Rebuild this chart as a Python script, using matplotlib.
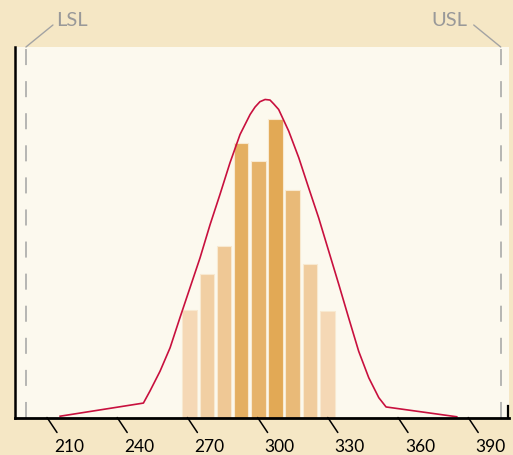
import matplotlib
matplotlib.use("Agg")
import matplotlib.pyplot as plt
from matplotlib.colors import LinearSegmentedColormap, Normalize

# histogram bins (centres) and heights
bin_centers = [271.0, 278.4, 285.6, 293.0, 300.4, 307.7, 315.0, 322.3, 329.8]
bin_heights = [5.80, 7.73, 9.26, 14.85, 13.89, 16.16, 12.32, 8.32, 5.75]

# fitted curve, sampled points
curve_x = [215.6, 251.2, 254.0, 258.3, 262.6, 266.8, 271.1, 275.4, 279.7, 283.9,
           288.2, 292.5, 296.8, 298.9, 301.0, 303.2, 305.3, 306.9, 309.0, 313.3,
           317.6, 321.8, 326.1, 330.4, 334.7, 338.9, 343.2, 347.5, 351.8, 354.9,
           385.1]
curve_y = [0.07, 0.78, 1.43, 2.50, 3.77, 5.39, 7.01, 8.63, 10.43, 12.05,
           13.77, 15.30, 16.38, 16.78, 17.07, 17.19, 17.16, 16.95, 16.65, 15.48,
           14.04, 12.42, 10.79, 8.99, 7.19, 5.39, 3.58, 2.15, 1.07, 0.57,
           0.04]

tick_values = [210, 240, 270, 300, 330, 360, 390]
tick_labels = ["210", "240", "270", "300", "330", "360", "390"]

lsl = 201.0
usl = 403.9

plt.rcParams["font.family"] = ["Lato", "DejaVu Sans"]

W, H = 513, 456
fig = plt.figure(figsize=(W / 100, H / 100), dpi=100, facecolor="#F5E7C5")
left_px, right_px, bottom_px, top_px = 14.5, 509, 418.5, 48
ax = fig.add_axes([left_px / W, (H - bottom_px) / H,
                   (right_px - left_px) / W, (bottom_px - top_px) / H])
ax.set_facecolor("#FCF9EE")

# bars coloured by height
cmap = LinearSegmentedColormap.from_list("bars", ["#F5D8B5", "#E2A955"])
norm = Normalize(min(bin_heights), max(bin_heights))
ax.bar(bin_centers, bin_heights, width=6.2,
       color=[cmap(norm(h)) for h in bin_heights],
       edgecolor="#F8E9D0", linewidth=0.8, zorder=2)

ax.plot(curve_x, curve_y, color="#C8103E", lw=1.2, zorder=3,
        solid_joinstyle="round")

# spec limits
for v in (lsl, usl):
    ax.axvline(v, color="#A3A3A3", lw=1.1, ls=(0, (10.5, 10.5)), zorder=1)
ax.annotate("", xy=(lsl, 1), xycoords=("data", "axes fraction"),
            xytext=(27, 22), textcoords="offset pixels",
            arrowprops=dict(arrowstyle="-", color="#A3A3A3", lw=1,
                            shrinkA=0, shrinkB=0))
ax.annotate("LSL", xy=(lsl, 1), xycoords=("data", "axes fraction"),
            xytext=(46, 28), textcoords="offset pixels",
            ha="center", va="center", fontsize=14.5, color="#999999")
ax.annotate("", xy=(usl, 1), xycoords=("data", "axes fraction"),
            xytext=(-27, 22), textcoords="offset pixels",
            arrowprops=dict(arrowstyle="-", color="#A3A3A3", lw=1,
                            shrinkA=0, shrinkB=0))
ax.annotate("USL", xy=(usl, 1), xycoords=("data", "axes fraction"),
            xytext=(-51, 28), textcoords="offset pixels",
            ha="center", va="center", fontsize=14.5, color="#999999")

# slanted ticks
for v, lab in zip(tick_values, tick_labels):
    ax.annotate("", xy=(v, 0), xycoords=("data", "axes fraction"),
                xytext=(10, -15), textcoords="offset pixels",
                arrowprops=dict(arrowstyle="-", color="black", lw=1.1,
                                shrinkA=0, shrinkB=0))
    ax.annotate(lab, xy=(v, 0), xycoords=("data", "axes fraction"),
                xytext=(22, -29), textcoords="offset pixels",
                ha="center", va="center", fontsize=12.5, color="black")

ax.set_xlim(210 + (left_px - 47) / 2.34, 210 + (right_px - 47) / 2.34)
ax.set_ylim(0, (bottom_px - top_px) / 18.5)
ax.set_xticks([])
ax.set_yticks([])
for s in ("top", "right"):
    ax.spines[s].set_visible(False)
ax.spines["left"].set_linewidth(1.8)
ax.spines["bottom"].set_linewidth(2)
ax.spines["left"].set_zorder(5)
ax.spines["bottom"].set_zorder(5)
# little upturn at the right end of the axis
ax.plot([0.997, 0.997], [0, 0.032], transform=ax.transAxes, color="black",
        lw=1.6, clip_on=False, zorder=5)

fig.savefig("out.png", dpi=100, facecolor=fig.get_facecolor())
